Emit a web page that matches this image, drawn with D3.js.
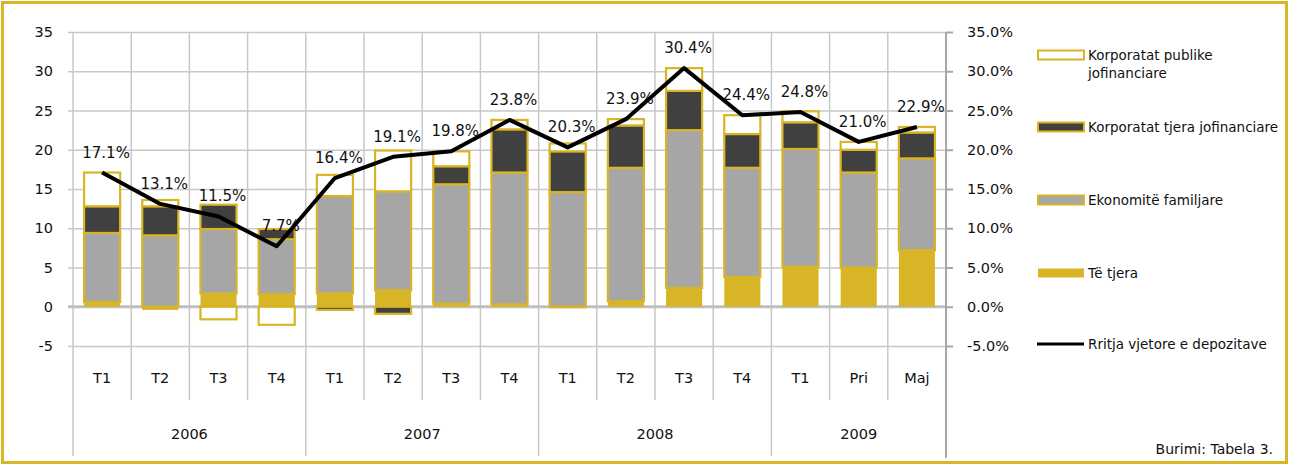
<!DOCTYPE html>
<html>
<head>
	<meta charset="utf-8">
	<script src="https://d3js.org/d3.v7.min.js"></script>
	<style type="text/css">
		body { margin: 0; background: #fff; }
		text { font-family: 'DejaVu Sans', sans-serif; fill: #111; }
		.axis path { display: none; }
		.axis text { font-size: 14.5px; }
	</style>
</head>
<body>
	<script type="text/javascript">
		// kategorite dhe vitet
		var categories = ['T1', 'T2', 'T3', 'T4', 'T1', 'T2', 'T3', 'T4', 'T1', 'T2', 'T3', 'T4', 'T1', 'Pri', 'Maj'];
		var years = ['2006', '2007', '2008', '2009'];
		var yearSpan = [4, 4, 4, 3];

		// kontributet (pike perqindjeje), lexuar nga grafiku
		var teTjera = [0.6, -0.4, 1.7, 1.6, 1.7, 2.1, 0.4, 0.3, -0.2, 0.7, 2.4, 3.8, 5.1, 5.0, 7.2];
		var ekonomite = [8.8, 9.1, 8.2, 7.0, 12.4, 12.6, 15.2, 16.8, 14.6, 17.0, 20.1, 13.9, 15.0, 12.1, 11.7];
		var korpTjera = [3.4, 3.7, 3.1, 1.3, -0.4, -0.9, 2.3, 5.5, 5.2, 5.4, 5.0, 4.3, 3.4, 2.9, 3.3];
		var korpPublike = [4.3, 0.8, -1.6, -2.3, 2.7, 5.2, 1.9, 1.2, 1.0, 0.8, 2.9, 2.4, 1.4, 1.0, 0.7];
		var rritja = [17.1, 13.1, 11.5, 7.7, 16.4, 19.1, 19.8, 23.8, 20.3, 23.9, 30.4, 24.4, 24.8, 21.0, 22.9];

		var seriesNames = ['Të tjera', 'Ekonomitë familjare', 'Korporatat tjera jofinanciare', 'Korporatat publike jofinanciare'];
		var seriesFill = ['#d8b427', '#a6a6a6', '#404040', '#ffffff'];
		var gold = '#d8b427',
			grid = '#c8c8c8';

		var dim = { w: 1289, h: 465 };
		var plot = { left: 73, right: 946, top: 32, bottom: 346 };

		var svg = d3.select('body')
			.append('svg')
				.attr('width', dim.w)
				.attr('height', dim.h);

		// korniza
		svg.append('rect')
			.attr('x', 2.5).attr('y', 2.5)
			.attr('width', dim.w - 5).attr('height', dim.h - 5)
			.attr('fill', 'none')
			.attr('stroke', gold)
			.attr('stroke-width', 3);

		var y = d3.scaleLinear()
			.domain([-5, 35])
			.range([plot.bottom, plot.top]);

		var idx = d3.range(categories.length);
		var x = d3.scaleBand()
			.domain(idx)
			.range([plot.left, plot.right])
			.paddingInner(0.38)
			.paddingOuter(0.19);
		var step = (plot.right - plot.left) / categories.length;

		/** Gridlines **/
		var ticks = d3.range(-5, 36, 5);
		svg.append('g')
			.attr('class', 'axis')
			.attr('transform', 'translate(' + plot.left + ',0)')
			.call(d3.axisLeft(y).tickValues(ticks).tickSize(5).tickPadding(15)
				.tickFormat(function(d) { return String(d); }))
			.call(function(g) {
				g.selectAll('line').attr('stroke', grid).attr('stroke-width', 1.5);
				g.selectAll('.tick').filter(function(d) { return d !== 0; })
					.append('line')
						.attr('x2', plot.right - plot.left)
						.attr('stroke', grid)
						.attr('stroke-width', 1.5);
			});

		// vijat vertikale (kategori dhe vite)
		var yearStarts = [0, 4, 8, 12, 15];
		d3.range(categories.length).forEach(function(i) {
			var isYear = yearStarts.indexOf(i) >= 0;
			svg.append('line')
				.attr('x1', plot.left + i * step).attr('x2', plot.left + i * step)
				.attr('y1', plot.top)
				.attr('y2', isYear ? 456 : 400)
				.attr('stroke', grid)
				.attr('stroke-width', 1.5);
		});

		// vija e zeros
		svg.append('line')
			.attr('x1', plot.left - 5).attr('x2', plot.right)
			.attr('y1', y(0)).attr('y2', y(0))
			.attr('stroke', '#bfbfbf')
			.attr('stroke-width', 3);

		/** Bars **/
		var rows = idx.map(function(i) {
			return { i: i, s0: teTjera[i], s1: ekonomite[i], s2: korpTjera[i], s3: korpPublike[i] };
		});
		var stack = d3.stack()
			.keys(['s0', 's1', 's2', 's3'])
			.offset(d3.stackOffsetDiverging);
		var layers = stack(rows);

		svg.append('g')
			.selectAll('g')
			.data(layers).enter()
			.append('g')
				.attr('fill', function(d, k) { return seriesFill[k]; })
				.attr('stroke', function(d, k) { return k === 0 ? 'none' : gold; })
				.attr('stroke-width', 2.2)
			.selectAll('rect')
			.data(function(d) { return d; }).enter()
			.append('rect')
				.attr('x', function(d) { return x(d.data.i); })
				.attr('width', x.bandwidth())
				.attr('y', function(d) { return y(Math.max(d[0], d[1])); })
				.attr('height', function(d) { return Math.abs(y(d[0]) - y(d[1])); });

		/** Right axis **/
		svg.append('line')
			.attr('x1', plot.right).attr('x2', plot.right)
			.attr('y1', plot.top).attr('y2', 458)
			.attr('stroke', '#a6a6a6')
			.attr('stroke-width', 2);
		svg.append('g')
			.attr('class', 'axis')
			.attr('transform', 'translate(' + plot.right + ',0)')
			.call(d3.axisRight(y).tickValues(ticks).tickSize(7).tickPadding(14)
				.tickFormat(function(d) { return d.toFixed(1) + '%'; }))
			.call(function(g) {
				g.selectAll('line').attr('stroke', '#a6a6a6').attr('stroke-width', 2);
			});

		/** Line **/
		var line = d3.line()
			.x(function(d, i) { return x(i) + x.bandwidth() / 2; })
			.y(function(d) { return y(d); });

		svg.append('path')
			.datum(rritja)
			.attr('d', line)
			.attr('fill', 'none')
			.attr('stroke', '#000')
			.attr('stroke-width', 4)
			.attr('stroke-linejoin', 'round');

		svg.append('g')
			.selectAll('text')
			.data(rritja).enter()
			.append('text')
				.attr('x', function(d, i) { return x(i) + x.bandwidth() / 2 + 4; })
				.attr('y', function(d) { return y(d) - 20; })
				.attr('text-anchor', 'middle')
				.attr('dominant-baseline', 'central')
				.style('font-size', '15px')
				.text(function(d) { return d.toFixed(1) + '%'; });

		/** Category labels **/
		svg.append('g')
			.selectAll('text')
			.data(categories).enter()
			.append('text')
				.attr('x', function(d, i) { return x(i) + x.bandwidth() / 2; })
				.attr('y', 378)
				.attr('text-anchor', 'middle')
				.attr('dominant-baseline', 'central')
				.style('font-size', '14.5px')
				.text(function(d) { return d; });

		svg.append('g')
			.selectAll('text')
			.data(years).enter()
			.append('text')
				.attr('x', function(d, k) {
					return plot.left + (yearStarts[k] + yearSpan[k] / 2) * step;
				})
				.attr('y', 434)
				.attr('text-anchor', 'middle')
				.attr('dominant-baseline', 'central')
				.style('font-size', '14.5px')
				.text(function(d) { return d; });

		/** Legend **/
		var legend = [
			{ name: ['Korporatat publike', 'jofinanciare'], fill: seriesFill[3], stroke: gold, y: 55 },
			{ name: [seriesNames[2]], fill: seriesFill[2], stroke: gold, y: 127 },
			{ name: [seriesNames[1]], fill: seriesFill[1], stroke: gold, y: 200 },
			{ name: [seriesNames[0]], fill: seriesFill[0], stroke: 'none', y: 273 },
			{ name: ['Rritja vjetore e depozitave'], line: true, y: 344 }
		];

		var lg = svg.append('g')
			.selectAll('g')
			.data(legend).enter()
			.append('g')
				.attr('transform', function(d) { return 'translate(1037,' + d.y + ')'; });

		lg.filter(function(d) { return !d.line; })
			.append('rect')
				.attr('x', 1).attr('y', -4.5)
				.attr('width', 46).attr('height', 9)
				.attr('fill', function(d) { return d.fill; })
				.attr('stroke', function(d) { return d.stroke; })
				.attr('stroke-width', 2);

		lg.filter(function(d) { return d.line; })
			.append('line')
				.attr('x1', 0).attr('x2', 47)
				.attr('stroke', '#000')
				.attr('stroke-width', 3);

		lg.append('text')
			.attr('x', 51)
			.style('font-size', '13.5px')
			.selectAll('tspan')
			.data(function(d) { return d.name; }).enter()
			.append('tspan')
				.attr('x', 51)
				.attr('y', function(d, k) { return k * 18; })
				.attr('dominant-baseline', 'central')
				.text(function(d) { return d; });

		svg.append('text')
			.attr('x', 1273)
			.attr('y', 449)
			.attr('text-anchor', 'end')
			.attr('dominant-baseline', 'central')
			.style('font-size', '14px')
			.text('Burimi: Tabela 3.');
	</script>
</body>
</html>
